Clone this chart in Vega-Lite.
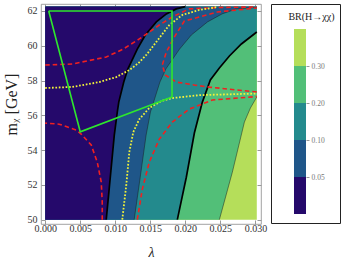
{
  "$schema": "https://vega.github.io/schema/vega-lite/v6.json",
  "autosize": {"type": "pad"},
  "padding": {"left": 2, "top": 2, "right": 0, "bottom": 0},
  "background": "white",
  "config": {
    "font": "Liberation Serif",
    "axis": {"labelFont": "Liberation Serif", "titleFont": "Liberation Serif", "grid": false},
    "title": {"font": "Liberation Serif"}
  },
  "datasets": {
    "region": [{"lam": 0, "lam2": 0.0302, "m": 50, "m2": 62.25}],
    "contours": [
      {"level": "0.05", "m": 50.0, "lam": 0.00871},
      {"level": "0.05", "m": 52.44, "lam": 0.00929},
      {"level": "0.05", "m": 54.86, "lam": 0.00986},
      {"level": "0.05", "m": 56.19, "lam": 0.01029},
      {"level": "0.05", "m": 56.76, "lam": 0.0105},
      {"level": "0.05", "m": 57.91, "lam": 0.01121},
      {"level": "0.05", "m": 58.66, "lam": 0.01179},
      {"level": "0.05", "m": 59.81, "lam": 0.01314},
      {"level": "0.05", "m": 60.62, "lam": 0.01429},
      {"level": "0.05", "m": 61.37, "lam": 0.01586},
      {"level": "0.05", "m": 61.83, "lam": 0.01729},
      {"level": "0.05", "m": 62.12, "lam": 0.01871},
      {"level": "0.05", "m": 62.25, "lam": 0.02},
      {"level": "0.10", "m": 50.0, "lam": 0.0127},
      {"level": "0.10", "m": 52.44, "lam": 0.01356},
      {"level": "0.10", "m": 54.86, "lam": 0.0144},
      {"level": "0.10", "m": 56.19, "lam": 0.01502},
      {"level": "0.10", "m": 57.91, "lam": 0.01637},
      {"level": "0.10", "m": 58.66, "lam": 0.01721},
      {"level": "0.10", "m": 59.81, "lam": 0.01918},
      {"level": "0.10", "m": 60.62, "lam": 0.02086},
      {"level": "0.10", "m": 61.37, "lam": 0.02316},
      {"level": "0.10", "m": 61.83, "lam": 0.02524},
      {"level": "0.10", "m": 62.12, "lam": 0.0273},
      {"level": "0.10", "m": 62.2, "lam": 0.0302},
      {"level": "0.10", "m": 62.25, "lam": 0.0302},
      {"level": "0.20", "m": 50.0, "lam": 0.01886},
      {"level": "0.20", "m": 52.44, "lam": 0.02014},
      {"level": "0.20", "m": 54.98, "lam": 0.02129},
      {"level": "0.20", "m": 56.76, "lam": 0.02243},
      {"level": "0.20", "m": 58.03, "lam": 0.02357},
      {"level": "0.20", "m": 58.72, "lam": 0.02486},
      {"level": "0.20", "m": 59.41, "lam": 0.02629},
      {"level": "0.20", "m": 60.1, "lam": 0.028},
      {"level": "0.20", "m": 60.79, "lam": 0.0302},
      {"level": "0.20", "m": 62.25, "lam": 0.0302},
      {"level": "0.30", "m": 50.0, "lam": 0.02486},
      {"level": "0.30", "m": 52.73, "lam": 0.02671},
      {"level": "0.30", "m": 55.61, "lam": 0.02843},
      {"level": "0.30", "m": 56.42, "lam": 0.02929},
      {"level": "0.30", "m": 57.05, "lam": 0.0302},
      {"level": "0.30", "m": 62.25, "lam": 0.0302}
    ],
    "curves": [
      {"kind": "red", "id": "r1", "m": 55.55, "lam": 0},
      {"kind": "red", "id": "r1", "m": 55.49, "lam": 0.002},
      {"kind": "red", "id": "r1", "m": 55.15, "lam": 0.00443},
      {"kind": "red", "id": "r1", "m": 54.92, "lam": 0.00514},
      {"kind": "red", "id": "r1", "m": 54.29, "lam": 0.00657},
      {"kind": "red", "id": "r1", "m": 53.31, "lam": 0.00743},
      {"kind": "red", "id": "r1", "m": 52.16, "lam": 0.008},
      {"kind": "red", "id": "r1", "m": 51.0, "lam": 0.00814},
      {"kind": "red", "id": "r1", "m": 50.0, "lam": 0.00814},
      {"kind": "red", "id": "r2", "m": 58.89, "lam": 0},
      {"kind": "red", "id": "r2", "m": 58.95, "lam": 0.00386},
      {"kind": "red", "id": "r2", "m": 59.35, "lam": 0.00871},
      {"kind": "red", "id": "r2", "m": 59.81, "lam": 0.01114},
      {"kind": "red", "id": "r2", "m": 60.39, "lam": 0.01343},
      {"kind": "red", "id": "r2", "m": 61.19, "lam": 0.01629},
      {"kind": "red", "id": "r2", "m": 61.65, "lam": 0.01814},
      {"kind": "red", "id": "r2", "m": 62.12, "lam": 0.02057},
      {"kind": "red", "id": "r2", "m": 62.2, "lam": 0.02486},
      {"kind": "red", "id": "r2", "m": 62.23, "lam": 0.0302},
      {"kind": "red", "id": "r3", "m": 62.17, "lam": 0.0302},
      {"kind": "red", "id": "r3", "m": 61.94, "lam": 0.02457},
      {"kind": "red", "id": "r3", "m": 61.42, "lam": 0.01986},
      {"kind": "red", "id": "r3", "m": 60.5, "lam": 0.01843},
      {"kind": "red", "id": "r3", "m": 59.64, "lam": 0.01729},
      {"kind": "red", "id": "r3", "m": 58.89, "lam": 0.01671},
      {"kind": "red", "id": "r3", "m": 58.32, "lam": 0.01714},
      {"kind": "red", "id": "r3", "m": 57.91, "lam": 0.01871},
      {"kind": "red", "id": "r3", "m": 57.74, "lam": 0.02129},
      {"kind": "red", "id": "r3", "m": 57.62, "lam": 0.02343},
      {"kind": "red", "id": "r3", "m": 57.34, "lam": 0.0302},
      {"kind": "red", "id": "r4", "m": 50.0, "lam": 0.01314},
      {"kind": "red", "id": "r4", "m": 51.75, "lam": 0.01386},
      {"kind": "red", "id": "r4", "m": 53.31, "lam": 0.01486},
      {"kind": "red", "id": "r4", "m": 54.63, "lam": 0.01629},
      {"kind": "red", "id": "r4", "m": 55.61, "lam": 0.01814},
      {"kind": "red", "id": "r4", "m": 56.36, "lam": 0.02057},
      {"kind": "red", "id": "r4", "m": 56.88, "lam": 0.02386},
      {"kind": "red", "id": "r4", "m": 57.08, "lam": 0.0302},
      {"kind": "yellow", "id": "y1", "m": 57.57, "lam": 0},
      {"kind": "yellow", "id": "y1", "m": 57.63, "lam": 0.00386},
      {"kind": "yellow", "id": "y1", "m": 57.91, "lam": 0.00771},
      {"kind": "yellow", "id": "y1", "m": 58.2, "lam": 0.01014},
      {"kind": "yellow", "id": "y1", "m": 58.6, "lam": 0.012},
      {"kind": "yellow", "id": "y1", "m": 59.0, "lam": 0.0133},
      {"kind": "yellow", "id": "y1", "m": 59.47, "lam": 0.01443},
      {"kind": "yellow", "id": "y1", "m": 60.22, "lam": 0.01586},
      {"kind": "yellow", "id": "y1", "m": 61.19, "lam": 0.01771},
      {"kind": "yellow", "id": "y1", "m": 61.77, "lam": 0.01957},
      {"kind": "yellow", "id": "y1", "m": 62.06, "lam": 0.022},
      {"kind": "yellow", "id": "y1", "m": 62.22, "lam": 0.0245},
      {"kind": "yellow", "id": "y2", "m": 50.0, "lam": 0.011},
      {"kind": "yellow", "id": "y2", "m": 51.98, "lam": 0.01157},
      {"kind": "yellow", "id": "y2", "m": 53.88, "lam": 0.012},
      {"kind": "yellow", "id": "y2", "m": 55.03, "lam": 0.01257},
      {"kind": "yellow", "id": "y2", "m": 55.78, "lam": 0.01343},
      {"kind": "yellow", "id": "y2", "m": 56.42, "lam": 0.01486},
      {"kind": "yellow", "id": "y2", "m": 56.82, "lam": 0.01657},
      {"kind": "yellow", "id": "y2", "m": 56.99, "lam": 0.01814},
      {"kind": "yellow", "id": "y2", "m": 57.16, "lam": 0.022},
      {"kind": "yellow", "id": "y2", "m": 57.25, "lam": 0.0302}
    ],
    "polygon": [
      {"i": 0, "lam": 0.0005, "m": 62},
      {"i": 1, "lam": 0.0181, "m": 62},
      {"i": 2, "lam": 0.0181, "m": 57.05},
      {"i": 3, "lam": 0.005, "m": 55.05},
      {"i": 4, "lam": 0.0005, "m": 62}
    ],
    "legend": [
      {"band": "0.30"},
      {"band": "0.20"},
      {"band": "0.10"},
      {"band": "0.05"},
      {"band": "0.00"}
    ]
  },
  "spacing": 10,
  "bounds": "flush",
  "hconcat": [
    {
      "width": 220,
      "height": 220,
      "view": {"stroke": "#8c8c8c", "strokeWidth": 0.8},
      "resolve": {"axis": {"x": "independent", "y": "independent"}},
      "encoding": {
        "x": {
          "field": "lam", "type": "quantitative", "stack": null,
          "scale": {"domain": [-0.0006, 0.0308], "nice": false, "zero": false},
          "axis": null
        },
        "y": {
          "field": "m", "type": "quantitative",
          "scale": {"domain": [49.75, 62.4], "nice": false, "zero": false},
          "axis": null
        }
      },
      "layer": [
        {
          "data": {"name": "region"},
          "mark": {"type": "rect", "fill": "#b5de5a"},
          "encoding": {
            "x": {
              "field": "lam", "type": "quantitative",
              "scale": {"domain": [-0.0006, 0.0308], "nice": false, "zero": false},
              "axis": {
                "orient": "bottom",
                "values": [0, 0.005, 0.01, 0.015, 0.02, 0.025, 0.03], "format": ".3f",
                "title": "λ", "titleFontStyle": "italic", "titleFontWeight": "normal", "titleFontSize": 14,
                "titleColor": "#222", "titlePadding": 12, "labelFontSize": 10, "labelColor": "#333",
                "domain": false, "tickSize": -4, "tickColor": "#999", "labelPadding": 3, "labelFlush": false
              }
            },
            "y": {
              "field": "m", "type": "quantitative",
              "scale": {"domain": [49.75, 62.4], "nice": false, "zero": false},
              "axis": {
                "orient": "left",
                "values": [50, 52, 54, 56, 58, 60, 62],
                "title": "mᵪ [GeV]", "titleFontSize": 16, "titleFontWeight": "normal", "titleColor": "#222",
                "titlePadding": 8, "titleY": 100, "labelFontSize": 10, "labelColor": "#333",
                "domain": false, "tickSize": -4, "tickColor": "#999", "labelPadding": 8
              }
            },
            "x2": {"field": "lam2"},
            "y2": {"field": "m2"}
          }
        },
        {
          "data": {"name": "contours"},
          "transform": [{"filter": "datum.level == '0.30'"}],
          "mark": {"type": "area", "orient": "horizontal", "fill": "#52bf78"},
          "encoding": {"x2": {"datum": 0}}
        },
        {
          "data": {"name": "contours"},
          "transform": [{"filter": "datum.level == '0.20'"}],
          "mark": {"type": "area", "orient": "horizontal", "fill": "#238a8d"},
          "encoding": {"x2": {"datum": 0}}
        },
        {
          "data": {"name": "contours"},
          "transform": [{"filter": "datum.level == '0.10'"}],
          "mark": {"type": "area", "orient": "horizontal", "fill": "#1f5689"},
          "encoding": {"x2": {"datum": 0}}
        },
        {
          "data": {"name": "contours"},
          "transform": [{"filter": "datum.level == '0.05'"}],
          "mark": {"type": "area", "orient": "horizontal", "fill": "#25096b"},
          "encoding": {"x2": {"datum": 0}}
        },
        {
          "data": {"name": "contours"},
          "transform": [{"filter": "(datum.level == '0.10' || datum.level == '0.30') && (datum.m < 62.24 || datum.lam < 0.03)"}],
          "mark": {"type": "line", "stroke": "#1a1a1a", "strokeWidth": 0.6, "strokeOpacity": 0.8},
          "encoding": {"detail": {"field": "level"}, "order": {"field": "m", "type": "quantitative"}}
        },
        {
          "data": {"name": "contours"},
          "transform": [{"filter": "(datum.level == '0.05' || datum.level == '0.20') && (datum.m < 62.24 || datum.lam < 0.03)"}],
          "mark": {"type": "line", "stroke": "#000", "strokeWidth": 1.7},
          "encoding": {"detail": {"field": "level"}, "order": {"field": "m", "type": "quantitative"}}
        },
        {
          "data": {"name": "curves"},
          "transform": [{"filter": "datum.kind == 'red'"}],
          "mark": {"type": "line", "stroke": "#f02020", "strokeWidth": 1.6, "strokeDash": [4.5, 3]},
          "encoding": {"detail": {"field": "id"}, "order": {"field": "m", "type": "quantitative"}}
        },
        {
          "data": {"name": "curves"},
          "transform": [{"filter": "datum.kind == 'yellow'"}],
          "mark": {"type": "line", "stroke": "#f2f23a", "strokeWidth": 1.8, "strokeDash": [1.7, 1.7]},
          "encoding": {"detail": {"field": "id"}, "order": {"field": "m", "type": "quantitative"}}
        },
        {
          "data": {"name": "polygon"},
          "mark": {"type": "line", "stroke": "#2ee62e", "strokeWidth": 1.6},
          "encoding": {
            "x": {
              "field": "lam", "type": "quantitative",
              "scale": {"domain": [-0.0006, 0.0308], "nice": false, "zero": false},
              "axis": {
                "orient": "top", "values": [0, 0.005, 0.01, 0.015, 0.02, 0.025, 0.03],
                "labels": false, "title": null, "domain": false, "tickSize": -4, "tickColor": "#999"
              }
            },
            "y": {
              "field": "m", "type": "quantitative",
              "scale": {"domain": [49.75, 62.4], "nice": false, "zero": false},
              "axis": {
                "orient": "right", "values": [50, 52, 54, 56, 58, 60, 62],
                "labels": false, "title": null, "domain": false, "tickSize": -4, "tickColor": "#999"
              }
            },
            "order": {"field": "i", "type": "quantitative"}
          }
        }
      ]
    },
    {
      "width": 69,
      "height": 219,
      "view": {"stroke": "#222", "strokeWidth": 1},
      "title": {"text": "BR(H→χχ)", "fontSize": 10, "fontWeight": "normal", "color": "#222", "offset": -18, "dx": 6},
      "data": {"name": "legend"},
      "mark": {"type": "rect"},
      "encoding": {
        "y": {
          "field": "band", "type": "ordinal", "sort": ["0.30", "0.20", "0.10", "0.05", "0.00"],
          "scale": {"range": [25, 210], "paddingInner": 0, "paddingOuter": 0},
          "axis": {
            "orient": "right", "offset": -34, "values": ["0.30", "0.20", "0.10", "0.05"],
            "tickOffset": 18.5, "labelOffset": 0,
            "title": null, "domain": false, "tickSize": 3, "tickColor": "#999", "labelColor": "#777",
            "labelFontSize": 7.5, "labelPadding": 2
          }
        },
        "x": {"datum": 0, "type": "quantitative", "scale": {"domain": [-1.917, 3.833], "nice": false, "zero": false}, "axis": null},
        "x2": {"datum": 1},
        "color": {
          "field": "band", "type": "nominal",
          "scale": {"domain": ["0.30", "0.20", "0.10", "0.05", "0.00"], "range": ["#b5de5a", "#52bf78", "#238a8d", "#1f5689", "#25096b"]},
          "legend": null
        }
      }
    }
  ]
}
